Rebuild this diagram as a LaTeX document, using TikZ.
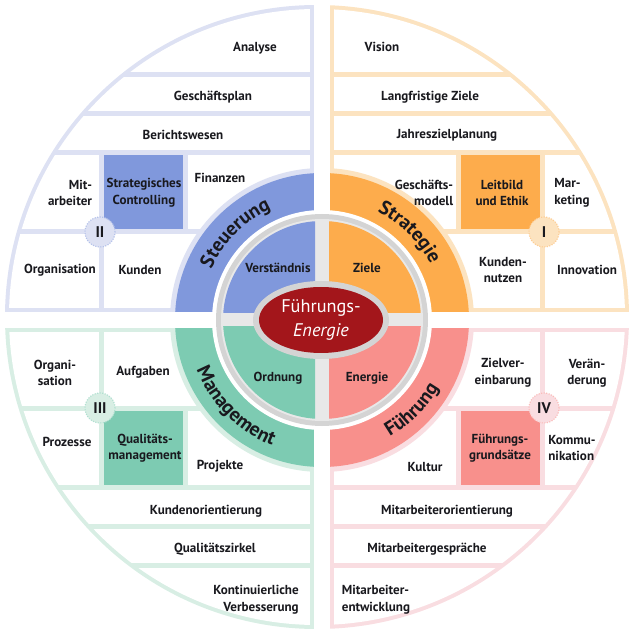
\documentclass[tikz,border=0pt]{standalone}
\usepackage{fontspec}
\setmainfont{PT Sans}
\usetikzlibrary{decorations.text}
\definecolor{steuerBlue}{RGB}{128,152,220}
\definecolor{steuerLight}{RGB}{221,225,243}
\definecolor{strategOrange}{RGB}{253,172,76}
\definecolor{strategLight}{RGB}{252,227,192}
\definecolor{managTeal}{RGB}{125,203,178}
\definecolor{managLight}{RGB}{216,238,228}
\definecolor{fuehrPink}{RGB}{248,144,140}
\definecolor{fuehrLight}{RGB}{249,221,225}
\definecolor{coreRed}{RGB}{163,22,27}
\definecolor{ringGrey}{RGB}{212,212,212}
\definecolor{crossGrey}{RGB}{232,232,232}
\definecolor{textDark}{RGB}{25,25,30}
\newcommand{\bandfont}{\fontsize{14}{16}\selectfont\bfseries}
\tikzset{
    cell text/.style={font=\fontsize{9.3}{11.8}\selectfont\bfseries, text=textDark, inner sep=0pt},
    numeral/.style={circle, minimum size=7.5mm, inner sep=0pt, densely dotted, line width=0.8pt,
        font=\fontsize{11}{12}\selectfont\bfseries, text=textDark},
    band text/.style={decorate, decoration={text along path, text align=center, text color=textDark}}
}

\begin{document}
\begin{tikzpicture}[x=0.25mm, y=0.25mm]
    \useasboundingbox (-322,-312) rectangle (307,320);
    \coordinate (rim) at (-5,3);

    % Draw the four quadrants with their cells and bands
    \foreach \sx/\sy/\light/\dark in {-1/1/steuerLight/steuerBlue, 1/1/strategLight/strategOrange,
                                      -1/-1/managLight/managTeal, 1/-1/fuehrLight/fuehrPink}{
        \begin{scope}[xscale=\sx, yscale=\sy]
            \clip (0,0) rectangle (330,330);
            \fill[\light] (rim) circle (312);
            \begin{scope}
                \clip (rim) circle (308);
                \fill[white] (12,248) rectangle (330,330);
                \fill[white] (12,209) rectangle (330,243);
                \fill[white] (12,170) rectangle (330,204);
                \fill[white] (12,91) rectangle (134,165);
                \fill[\dark] (139,91) rectangle (218,165);
                \fill[white] (223,91) rectangle (330,165);
                \fill[white] (12,12) rectangle (218,86);
                \fill[white] (223,12) rectangle (330,86);
            \end{scope}
            \fill[\light] (0,0) circle (152);
            \fill[\dark] (0,0) circle (147);
        \end{scope}
    }
    \fill[white] (0,0) circle (110);
    \fill[white] (-8,-330) rectangle (8,330);
    \fill[white] (-330,-8) rectangle (330,8);

    % Draw the inner disk and the core
    \fill[ringGrey] (0,0) circle (106);
    \fill[crossGrey] (0,0) circle (101);
    \foreach \sx/\sy/\dark in {-1/1/steuerBlue, 1/1/strategOrange, -1/-1/managTeal, 1/-1/fuehrPink}{
        \begin{scope}[xscale=\sx, yscale=\sy]
            \clip (7,7) rectangle (110,110);
            \fill[\dark] (0,0) circle (99);
        \end{scope}
    }
    \fill[ringGrey] (-1,0) ellipse (68 and 39);
    \fill[coreRed] (-1,0) ellipse (62 and 33);
    \node[align=center, text=white, font=\fontsize{13}{16.5}\selectfont] (core) at (-1,0) {Führungs-\\\textit{Energie}};

    % Band labels
    \path[band text, decoration={text={|\bandfont|Steuerung}}] (172:122) arc[start angle=172, end angle=98, radius=122];
    \path[band text, decoration={text={|\bandfont|Strategie}}] (82:122) arc[start angle=82, end angle=8, radius=122];
    \path[band text, decoration={text={|\bandfont|Management}}] (188:135) arc[start angle=188, end angle=262, radius=135];
    \path[band text, decoration={text={|\bandfont|Führung}}] (278:135) arc[start angle=278, end angle=352, radius=135];

    \node[cell text] (verst) at (-44,52) {Verständnis};
    \node[cell text] (ziele) at (45,52) {Ziele};
    \node[cell text] (ordnung) at (-44,-58) {Ordnung};
    \node[cell text] (energie) at (45,-58) {Energie};

    % Quadrant II
    \node[cell text] (analyse) at (-67,272) {Analyse};
    \node[cell text] (gplan) at (-109,223) {Geschäftsplan};
    \node[cell text] (bericht) at (-139,185) {Berichtswesen};
    \node[cell text, align=right] (mitarb) at (-252,127) {Mit-\\arbeiter};
    \node[cell text, align=center] (stratcontr) at (-178,127) {Strategisches\\Controlling};
    \node[cell text] (finanzen) at (-102,142) {Finanzen};
    \node[cell text] (orgII) at (-262,50) {Organisation};
    \node[cell text] (kunden) at (-182,50) {Kunden};

    % Quadrant I
    \node[cell text] (vision) at (60,273) {Vision};
    \node[cell text] (langziele) at (108,223) {Langfristige Ziele};
    \node[cell text] (jahresziel) at (125,185) {Jahreszielplanung};
    \node[cell text, align=right] (gmodell) at (102,127) {Geschäfts-\\modell};
    \node[cell text, align=center] (leitbild) at (180,127) {Leitbild\\und Ethik};
    \node[cell text, align=left] (marketing) at (250,127) {Mar-\\keting};
    \node[cell text, align=center] (knutzen) at (181,50) {Kunden-\\nutzen};
    \node[cell text] (innovation) at (265,50) {Innovation};

    % Quadrant III
    \node[cell text, align=center] (orgIII) at (-267,-53) {Organi-\\sation};
    \node[cell text] (aufgaben) at (-179,-52) {Aufgaben};
    \node[cell text] (prozesse) at (-255,-122) {Prozesse};
    \node[cell text, align=center] (qmanag) at (-177,-128) {Qualitäts-\\management};
    \node[cell text] (projekte) at (-102,-146) {Projekte};
    \node[cell text] (kundenor) at (-116,-191) {Kundenorientierung};
    \node[cell text] (qzirkel) at (-107,-229) {Qualitätszirkel};
    \node[cell text, align=right] (kvp) at (-66,-280) {Kontinuierliche\\Verbesserung};

    % Quadrant IV
    \node[cell text, align=center] (zielver) at (181,-53) {Zielver-\\einbarung};
    \node[cell text, align=center] (veraend) at (265,-53) {Verän-\\derung};
    \node[cell text] (kultur) at (103,-147) {Kultur};
    \node[cell text, align=center] (fgrund) at (178,-128) {Führungs-\\grundsätze};
    \node[cell text, align=left] (kommu) at (250,-128) {Kommu-\\nikation};
    \node[cell text] (maorient) at (125,-191) {Mitarbeiterorientierung};
    \node[cell text] (magespr) at (105,-229) {Mitarbeitergespräche};
    \node[cell text, align=left] (maentw) at (54,-280) {Mitarbeiter-\\entwicklung};

    % Quadrant numbers
    \node[numeral, fill=steuerLight, draw=steuerBlue!60] (numII) at (-222,88) {II};
    \node[numeral, fill=strategLight, draw=strategOrange!60] (numI) at (222,88) {I};
    \node[numeral, fill=managLight, draw=managTeal!60] (numIII) at (-222,-88) {III};
    \node[numeral, fill=fuehrLight, draw=fuehrPink!60] (numIV) at (222,-88) {IV};
\end{tikzpicture}
\end{document}
